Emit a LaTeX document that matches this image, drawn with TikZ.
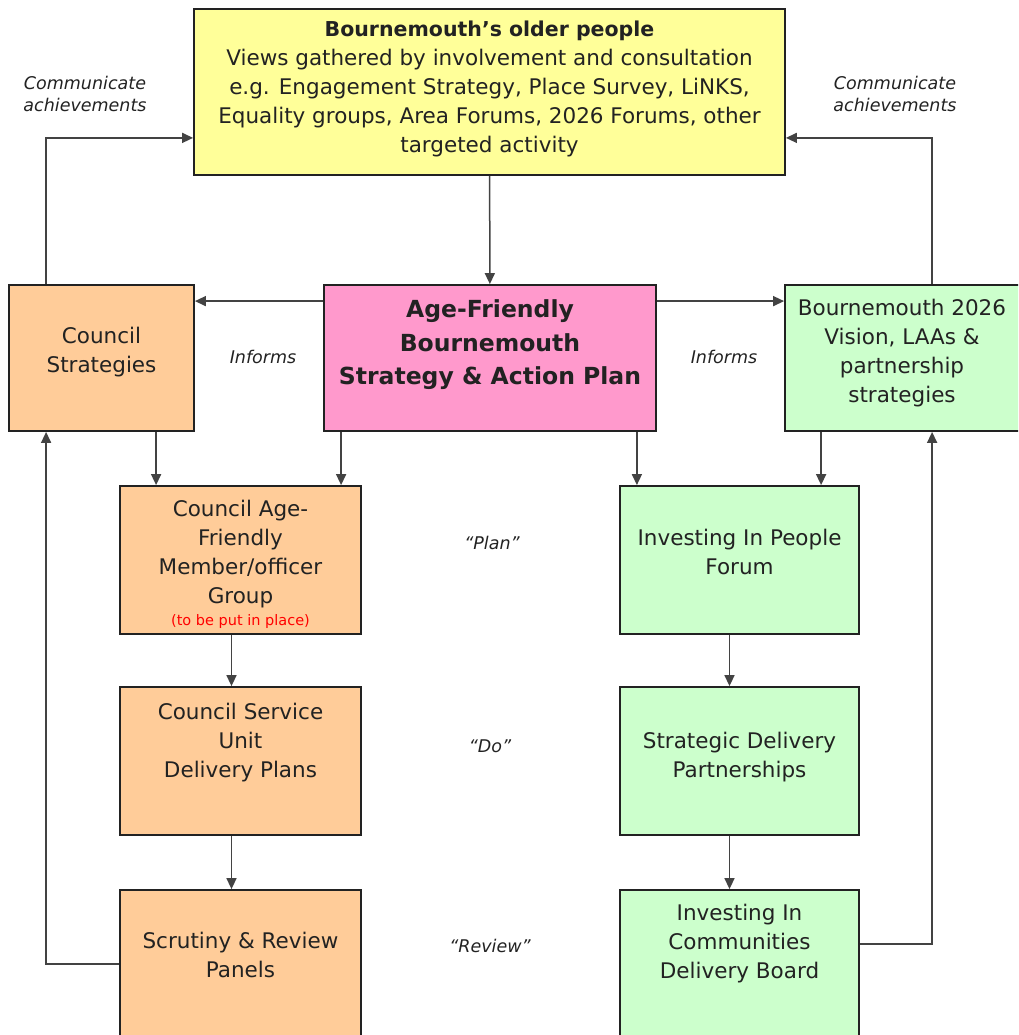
\documentclass[tikz,border=0pt]{standalone}
\usepackage{fontspec}
\setmainfont{DejaVu Sans}
\usetikzlibrary{arrows.meta}

\definecolor{olderfill}{HTML}{FFFF99}
\definecolor{councilfill}{HTML}{FFCC99}
\definecolor{planfill}{HTML}{FF99CC}
\definecolor{partnerfill}{HTML}{CCFFCC}
\definecolor{ink}{HTML}{222222}

\tikzset{
	box/.style={draw=ink, line width=1.8pt, inner sep=0pt},
	boxtext/.style={align=center, text=ink, font=\fontsize{21.5}{29}\selectfont},
	arr/.style={draw=ink!85, line width=1.5pt, -{Triangle[length=11pt,width=10pt]}},
	note/.style={align=center, text=ink, font=\fontsize{17.5}{22.5}\selectfont\itshape}
}

\begin{document}
\begin{tikzpicture}[x=1pt,y=-1pt]
	\useasboundingbox (0,0) rectangle (1018,1035);
	\clip (0,0) rectangle (1018,1035);
	% top box
	\node[box, fill=olderfill, minimum width=591, minimum height=166,
		label={[boxtext, yshift=3pt]center:{\fontsize{20.5}{29}\selectfont\bfseries Bournemouth’s older people}\\Views gathered by involvement and consultation\\e.g. Engagement Strategy, Place Survey, LiNKS,\\Equality groups, Area Forums, 2026 Forums, other\\targeted activity}] (people) at (489.5,92) {};
	% middle row
	\node[box, fill=councilfill, minimum width=185, minimum height=146,
		label={[boxtext, yshift=6pt]center:Council\\Strategies}] (council) at (101.5,358) {};
	\node[box, fill=planfill, minimum width=332, minimum height=146,
		label={[boxtext, yshift=13pt, font=\fontsize{23.5}{33.5}\selectfont\bfseries]center:Age-Friendly\\Bournemouth\\Strategy \& Action Plan}] (plan) at (490,358) {};
	\node[box, fill=partnerfill, minimum width=240, minimum height=146,
		label={[boxtext, xshift=-3pt, yshift=5pt]center:Bournemouth 2026\\Vision, LAAs \&\\partnership\\strategies}] (vision) at (905,358) {};
	% council column
	\node[box, fill=councilfill, minimum width=241, minimum height=148,
		label={[boxtext, yshift=-4pt]center:Council Age-\\Friendly\\Member/officer\\Group\\[-7pt]{\fontsize{14.5}{20}\selectfont\color{red}(to be put in place)}}] (member) at (240.5,560) {};
	\node[box, fill=councilfill, minimum width=241, minimum height=148,
		label={[boxtext, yshift=18pt]center:Council Service\\Unit\\Delivery Plans}] (service) at (240.5,761) {};
	\node[box, fill=councilfill, minimum width=241, minimum height=150,
		label={[boxtext, yshift=10pt]center:Scrutiny \& Review\\Panels}] (scrutiny) at (240.5,965) {};
	% partner column
	\node[box, fill=partnerfill, minimum width=239, minimum height=148,
		label={[boxtext, yshift=8pt]center:Investing In People\\Forum}] (forum) at (739.5,560) {};
	\node[box, fill=partnerfill, minimum width=239, minimum height=148,
		label={[boxtext, yshift=4pt]center:Strategic Delivery\\Partnerships}] (strategic) at (739.5,761) {};
	\node[box, fill=partnerfill, minimum width=239, minimum height=150,
		label={[boxtext, yshift=21pt]center:Investing In\\Communities\\Delivery Board}] (communities) at (739.5,965) {};
	% notes
	\node[note] (commL) at (85,94) {Communicate\\achievements};
	\node[note] (commR) at (895,94) {Communicate\\achievements};
	\node[note] (informsL) at (263,357) {Informs};
	\node[note] (informsR) at (724,357) {Informs};
	\node[note] (planstep) at (492,543) {“Plan”};
	\node[note] (dostep) at (490,746) {“Do”};
	\node[note] (reviewstep) at (490,946) {“Review”};
	% connectors
	\draw[arr] (people) -- (plan);
	\draw[arr] ([yshift=-17pt]plan.north west) -- ([yshift=-17pt]council.north east);
	\draw[arr] ([yshift=-17pt]plan.north east) -- ([yshift=-17pt]vision.north west);
	\draw[arr] ([xshift=38pt]council.north west) |- ([yshift=38pt]people.south west);
	\draw[arr] ([xshift=148pt]vision.north west) |- ([yshift=38pt]people.south east);
	\coordinate (c1) at ([xshift=148pt]council.south west);
	\coordinate (p1) at ([xshift=18pt]plan.south west);
	\coordinate (p2) at ([xshift=-20pt]plan.south east);
	\coordinate (v1) at ([xshift=37pt]vision.south west);
	\draw[arr] (c1) -- (c1 |- member.north);
	\draw[arr] (p1) -- (p1 |- member.north);
	\draw[arr] (p2) -- (p2 |- forum.north);
	\draw[arr] (v1) -- (v1 |- forum.north);
	\foreach \a/\b in {member/service, service/scrutiny}{
		\draw[arr] ([xshift=-9pt]\a.south) -- ([xshift=-9pt]\b.north);
		}
	\foreach \a/\b in {forum/strategic, strategic/communities}{
		\draw[arr] ([xshift=-10pt]\a.south) -- ([xshift=-10pt]\b.north);
		}
	\draw[arr] ([yshift=-75pt]scrutiny.north west) -| ([xshift=38pt]council.south west);
	\draw[arr] ([yshift=-55pt]communities.north east) -| ([xshift=148pt]vision.south west);
\end{tikzpicture}
\end{document}
